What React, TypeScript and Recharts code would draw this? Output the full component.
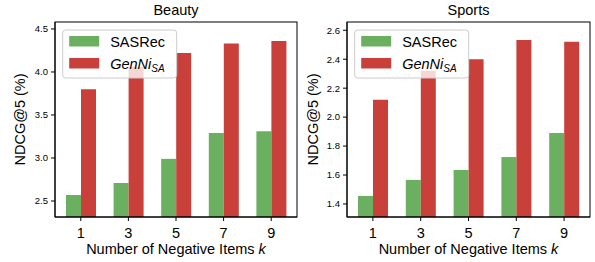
import React from 'react';
import { BarChart, Bar, XAxis, YAxis } from 'recharts';

const categories = ['1', '3', '5', '7', '9'];
const beautySASRec = [2.57, 2.71, 2.99, 3.29, 3.31];
const beautyGenNi = [3.8, 4.06, 4.22, 4.33, 4.36];
const sportsSASRec = [1.455, 1.566, 1.635, 1.724, 1.89];
const sportsGenNi = [2.12, 2.32, 2.4, 2.533, 2.52];
const beautyTicks = [2.5, 3.0, 3.5, 4.0, 4.5];
const sportsTicks = [1.4, 1.6, 1.8, 2.0, 2.2, 2.4, 2.6];
const beautyDomain = [2.314, 4.581];
const sportsDomain = [1.31, 2.657];

const GREEN = '#6ab060';
const RED = '#c93f3a';
const FONT = '"Liberation Sans", Arial, Helvetica, sans-serif';

const CH_W = 300;
const CH_H = 262;
const PLOT_TOP = 22;
const XAXIS_H = 45;
const YAXIS_W = 55;

function buildData(a: number[], b: number[]) {
  return categories.map((c, i) => ({ k: c, sasrec: a[i], genni: b[i] }));
}

type PanelProps = {
  left: number;
  rightMargin: number;
  title: string;
  a: number[];
  b: number[];
  ticks: number[];
  domain: number[];
  ylabelOffset: number;
};

function Panel({ left, rightMargin, title, a, b, ticks, domain, ylabelOffset }: PanelProps) {
  const data = buildData(a, b);
  const plotL = YAXIS_W;
  const plotR = CH_W - rightMargin;
  const plotB = CH_H - XAXIS_H;
  const cx = (plotL + plotR) / 2;
  const cy = (PLOT_TOP + plotB) / 2;
  const lgX = plotL + 7.7;
  const lgY = PLOT_TOP + 8;
  return (
    <div style={{ position: 'absolute', left, top: 0, width: CH_W, height: CH_H }}>
      <BarChart
        width={CH_W}
        height={CH_H}
        data={data}
        margin={{ top: PLOT_TOP, right: rightMargin, bottom: 0, left: 0 }}
        barGap={0}
        barSize={15}
      >
        <XAxis
          dataKey="k"
          height={XAXIS_H}
          padding={{ left: 2, right: 2 }}
          tickSize={4}
          tickMargin={7}
          axisLine={{ stroke: '#000' }}
          tickLine={{ stroke: '#000' }}
          tick={{ fill: '#000', fontSize: 14.5, fontFamily: FONT }}
        />
        <YAxis
          width={YAXIS_W}
          type="number"
          domain={domain}
          allowDataOverflow
          ticks={ticks}
          tickFormatter={(v: number) => v.toFixed(1)}
          tickSize={4}
          tickMargin={3}
          axisLine={{ stroke: '#000' }}
          tickLine={{ stroke: '#000' }}
          tick={{ fill: '#000', fontSize: 9.5, fontFamily: FONT }}
        />
        <Bar dataKey="sasrec" fill={GREEN} isAnimationActive={false} />
        <Bar dataKey="genni" fill={RED} isAnimationActive={false} />
      </BarChart>
      <svg
        width={CH_W}
        height={CH_H}
        style={{ position: 'absolute', left: 0, top: 0, pointerEvents: 'none', fontFamily: FONT }}
      >
        <rect
          x={plotL}
          y={PLOT_TOP}
          width={plotR - plotL}
          height={plotB - PLOT_TOP}
          fill="none"
          stroke="#000"
          strokeWidth={1}
        />
        <text x={cx} y={15} textAnchor="middle" fontSize={14.5} fill="#000">
          {title}
        </text>
        <text x={cx} y={254} textAnchor="middle" fontSize={14.5} fill="#000">
          Number of Negative Items <tspan fontStyle="italic">k</tspan>
        </text>
        <text
          x={plotL - ylabelOffset}
          y={cy}
          textAnchor="middle"
          dominantBaseline="central"
          fontSize={14.5}
          fill="#000"
          transform={`rotate(-90, ${plotL - ylabelOffset}, ${cy})`}
        >
          NDCG@5 (%)
        </text>
        <rect
          x={lgX}
          y={lgY}
          width={114}
          height={48}
          rx={3}
          fill="#fff"
          fillOpacity={0.8}
          stroke="#cccccc"
          strokeWidth={1}
        />
        <rect x={lgX + 6.5} y={lgY + 6} width={30} height={10.5} fill={GREEN} />
        <rect x={lgX + 6.5} y={lgY + 28} width={30} height={10.5} fill={RED} />
        <text x={lgX + 47.5} y={lgY + 16.5} fontSize={14.5} fill="#000">
          SASRec
        </text>
        <text x={lgX + 47.5} y={lgY + 38.5} fontSize={14.5} fill="#000" fontStyle="italic">
          GenNi
          <tspan fontSize={10} dy={3.5}>
            SA
          </tspan>
        </text>
      </svg>
    </div>
  );
}

export default function App() {
  return (
    <div
      style={{
        position: 'absolute',
        left: 0,
        top: 0,
        width: 595,
        height: 262,
        background: '#fff',
        fontFamily: FONT,
      }}
    >
      <Panel
        left={0}
        rightMargin={3}
        title="Beauty"
        a={beautySASRec}
        b={beautyGenNi}
        ticks={beautyTicks}
        domain={beautyDomain}
        ylabelOffset={35}
      />
      <Panel
        left={292}
        rightMargin={2}
        title="Sports"
        a={sportsSASRec}
        b={sportsGenNi}
        ticks={sportsTicks}
        domain={sportsDomain}
        ylabelOffset={34}
      />
    </div>
  );
}
